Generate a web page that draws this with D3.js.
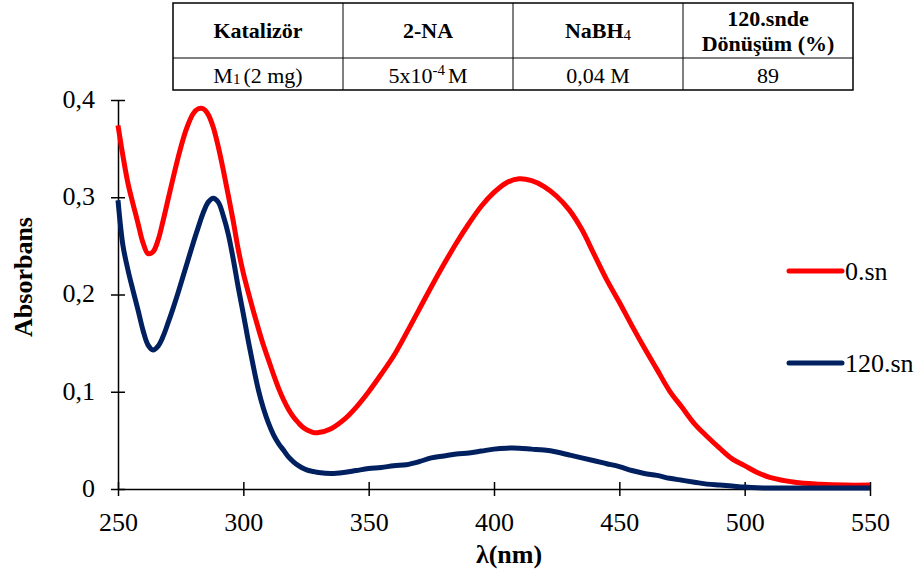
<!DOCTYPE html>
<html><head><meta charset="utf-8">
<script src="https://cdn.jsdelivr.net/npm/d3@7"></script>
<style>body{margin:0;background:#fff}svg{display:block}svg text{font-family:"Liberation Serif","Tinos","DejaVu Serif",serif}</style>
</head><body>
<script>
const wavelengths = [250,252,254,256,258,260,262,264,266,268,270,272,274,276,278,280,282,284,286,288,290,292,294,296,298,300,302,304,306,308,310,312,314,316,318,320,322,324,326,328,330,335,340,345,350,355,360,365,370,375,380,385,390,395,400,405,410,415,420,425,430,435,440,445,450,455,460,465,470,475,480,485,490,495,500,505,510,520,530,540,550];
const abs0 = [0.374,0.342,0.314,0.293,0.273,0.253,0.242,0.244,0.256,0.276,0.298,0.320,0.341,0.360,0.375,0.386,0.391,0.391,0.385,0.372,0.352,0.328,0.302,0.275,0.246,0.222,0.202,0.183,0.165,0.148,0.133,0.118,0.104,0.092,0.082,0.074,0.068,0.063,0.060,0.058,0.058,0.062,0.071,0.084,0.100,0.118,0.137,0.160,0.184,0.208,0.231,0.253,0.273,0.291,0.305,0.315,0.319,0.317,0.311,0.301,0.287,0.267,0.241,0.215,0.192,0.168,0.145,0.123,0.101,0.084,0.067,0.054,0.042,0.031,0.024,0.017,0.012,0.007,0.005,0.004,0.004];
const abs120 = [0.297,0.250,0.225,0.204,0.184,0.163,0.148,0.143,0.147,0.157,0.171,0.186,0.202,0.219,0.236,0.253,0.269,0.284,0.295,0.299,0.295,0.281,0.262,0.236,0.207,0.180,0.152,0.126,0.102,0.083,0.068,0.056,0.047,0.040,0.033,0.028,0.024,0.021,0.019,0.018,0.017,0.016,0.017,0.019,0.021,0.022,0.024,0.025,0.028,0.032,0.034,0.036,0.037,0.039,0.041,0.042,0.042,0.041,0.040,0.038,0.035,0.032,0.029,0.026,0.023,0.019,0.016,0.014,0.011,0.009,0.007,0.005,0.004,0.003,0.002,0.0013,0.001,0.001,0.001,0.001,0.001];
const seriesNames = ["0.sn","120.sn"];
const seriesColors = ["#ff0000","#002060"];
const xTicks = [250,300,350,400,450,500,550];
const yTicks = [0,0.1,0.2,0.3,0.4];
const yTickLabels = ["0","0,1","0,2","0,3","0,4"];
const tableHeader = ["Katalizör","2-NA","NaBH4","120.snde Dönüşüm (%)"];
const tableRow = ["M1 (2 mg)","5x10-4 M","0,04 M","89"];

const W=922,H=574;
const svg=d3.select("body").append("svg").attr("width",W).attr("height",H);

const x=d3.scaleLinear().domain([250,550]).range([118,870]);
const y=d3.scaleLinear().domain([0,0.4]).range([489,100]);

// axes
const gx=svg.append("g").attr("transform","translate(0,489)")
  .call(d3.axisBottom(x).tickValues(xTicks).tickSize(0).tickPadding(0).tickFormat(d=>d));
gx.attr("font-family",null);
gx.select(".domain").attr("stroke","#000").attr("stroke-width",1.5);
gx.selectAll(".tick line").remove();
gx.selectAll(".tick").append("line").attr("y1",-7).attr("y2",7).attr("stroke","#000").attr("stroke-width",1.5);
gx.selectAll(".tick text").attr("y",24).attr("font-size",26).attr("fill","#000");

const gy=svg.append("g").attr("transform","translate(118,0)")
  .call(d3.axisLeft(y).tickValues(yTicks).tickSize(0).tickFormat((d,i)=>yTickLabels[i]));
gy.attr("font-family",null);
gy.select(".domain").attr("stroke","#000").attr("stroke-width",1.5);
gy.selectAll(".tick line").remove();
gy.selectAll(".tick").append("line").attr("x1",-7).attr("x2",7).attr("stroke","#000").attr("stroke-width",1.5);
gy.selectAll(".tick text").attr("x",-23).attr("dy","0.28em").attr("font-size",26).attr("fill","#000");

svg.append("text").attr("x",509).attr("y",563).attr("text-anchor","middle")
  .attr("font-weight","bold").attr("font-size",26).text("λ(nm)");
svg.append("text").attr("transform","translate(32,277) rotate(-90)").attr("text-anchor","middle")
  .attr("font-weight","bold").attr("font-size",26).text("Absorbans");

// lines
const line=d3.line().x((d,i)=>x(wavelengths[i])).y(d=>y(d)).curve(d3.curveCatmullRom.alpha(0.5));
[abs0,abs120].forEach((s,k)=>{
  svg.append("path").datum(s).attr("d",line).attr("fill","none")
    .attr("stroke",seriesColors[k]).attr("stroke-width",5).attr("stroke-linejoin","round");
});
// legend
const legY=[271,363];
seriesNames.forEach((n,k)=>{
  svg.append("line").attr("x1",789).attr("x2",842).attr("y1",legY[k]).attr("y2",legY[k])
    .attr("stroke",seriesColors[k]).attr("stroke-width",5).attr("stroke-linecap","round");
  svg.append("text").attr("x",845).attr("y",legY[k]+9).attr("font-size",26).text(n);
});

// table
const tx=[173,343,513,683,853], ty=[3,58,90];
const tg=svg.append("g");
tg.append("rect").attr("x",tx[0]).attr("y",ty[0]).attr("width",tx[4]-tx[0]).attr("height",ty[2]-ty[0])
  .attr("fill","none").attr("stroke","#000").attr("stroke-width",1.5);
tg.append("line").attr("x1",tx[0]).attr("x2",tx[4]).attr("y1",ty[1]).attr("y2",ty[1]).attr("stroke","#000").attr("stroke-width",1);
for(let i=1;i<4;i++) tg.append("line").attr("x1",tx[i]).attr("x2",tx[i]).attr("y1",ty[0]).attr("y2",ty[2]).attr("stroke","#000").attr("stroke-width",1);
const cx=i=>(tx[i]+tx[i+1])/2;
function hdr(i,yy,txt){
  return tg.append("text").attr("x",cx(i)).attr("y",yy).attr("text-anchor","middle")
    .attr("font-weight","bold").attr("font-size",22).text(txt);
}
hdr(0,38,tableHeader[0]);
hdr(1,38,tableHeader[1]);
{ const t=tg.append("text").attr("x",cx(2)).attr("y",38).attr("text-anchor","middle")
    .attr("font-weight","bold").attr("font-size",22);
  t.append("tspan").text("NaBH"); t.append("tspan").text("4").attr("font-size",15).attr("font-weight","normal").attr("dy",2); }
hdr(3,26,tableHeader[3].split(" ")[0]);
hdr(3,51,tableHeader[3].split(" ").slice(1).join(" "));
function cell(i,build){
  const t=tg.append("text").attr("x",cx(i)).attr("y",83).attr("text-anchor","middle").attr("font-size",22);
  build(t);
}
cell(0,t=>{t.append("tspan").text("M");t.append("tspan").text("1").attr("font-size",15).attr("dy",1);t.append("tspan").text("(2 mg)").attr("dy",-1).attr("dx",3);});
cell(1,t=>{t.append("tspan").text("5x10");t.append("tspan").text("-4").attr("font-size",15).attr("dy",-8);t.append("tspan").text("M").attr("dy",8).attr("dx",3);});
cell(2,t=>t.text(tableRow[2]));
cell(3,t=>t.text(tableRow[3]));
</script>
</body></html>
